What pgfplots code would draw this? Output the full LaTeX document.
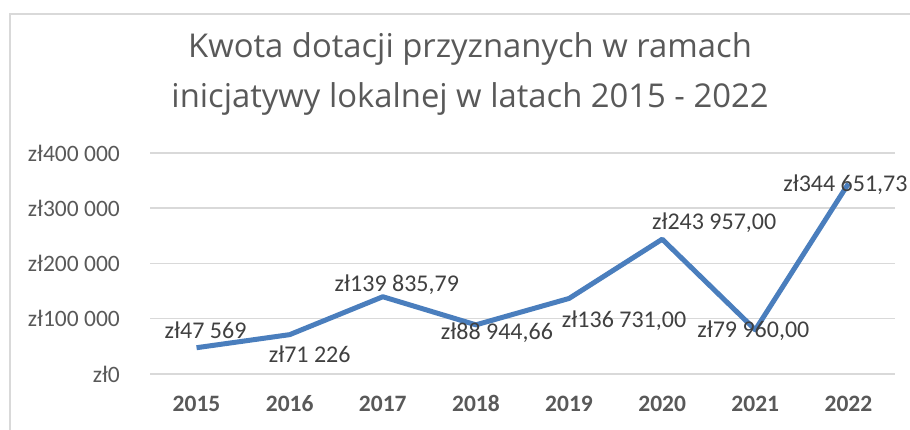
\documentclass[border=0pt]{standalone}
\usepackage{fontspec}
\setmainfont{Carlito}
\newfontfamily\titlefont{Open Sans}
\usepackage{pgfplots}
\pgfplotsset{compat=1.18}
\definecolor{linecol}{HTML}{4A7EBD}
\definecolor{gridgray}{HTML}{D9D9D9}
\definecolor{axgray}{HTML}{595959}
\definecolor{labgray}{HTML}{404040}
\definecolor{bordergray}{HTML}{D9D9D9}
\begin{document}
\begin{tikzpicture}
\useasboundingbox (0pt,0pt) rectangle (910pt,430pt);
\draw[bordergray, line width=1.3pt] (10pt,-20pt) -- (10pt,416pt) -- (940pt,416pt);
\node[font=\titlefont\fontsize{32.8}{50}\selectfont, text=axgray, align=center] at (470pt,356pt)
  {Kwota dotacji przyznanych w ramach\\inicjatywy lokalnej w latach 2015 - 2022};
\begin{axis}[
  at={(150pt,56pt)}, anchor=south west,
  scale only axis, width=745pt, height=221pt,
  xmin=-0.5, xmax=7.5, ymin=0, ymax=400000,
  axis line style={draw=none},
  tick style={draw=none},
  major tick length=0pt,
  ymajorgrids, grid style={gridgray, line width=1.5pt},
  ytick={0,100000,200000,300000,400000},
  yticklabels={zł0,zł100 000,zł200 000,zł300 000,zł400 000},
  xtick={0,1,2,3,4,5,6,7},
  xticklabels={2015,2016,2017,2018,2019,2020,2021,2022},
  /pgf/number format/assume math mode=true,
  yticklabel style={font=\fontsize{23.5}{28}\selectfont, text=axgray, anchor=east, inner sep=0pt, xshift=-30pt},
  xticklabel style={font=\fontsize{23.5}{28}\selectfont\bfseries, text=axgray, anchor=base, inner sep=0pt, yshift=-38pt},
  clip=false,
  scaled y ticks=false,
]
\addplot[linecol, line width=5pt, line join=round, mark=none,
  nodes near coords,
  point meta=explicit symbolic,
  visualization depends on={\thisrow{dx} \as \labdx},
  visualization depends on={\thisrow{dy} \as \labdy},
  every node near coord/.append style={anchor=center, inner sep=0pt,
    xshift=\labdx pt, yshift=\labdy pt,
    font=\fontsize{24}{28}\selectfont, text=labgray},
] table[col sep=semicolon, row sep=\\, x=x, y=y, meta=label] {
x;y;label;dx;dy\\
0;47569;zł47 569;9;17\\
1;71226;zł71 226;20;-20\\
2;139835.79;zł139 835,79;14;12\\
3;88944.66;zł88 944,66;21;-8\\
4;136731.00;zł136 731,00;55;-22\\
5;243957.00;zł243 957,00;52;17\\
6;79960.00;zł79 960,00;-2;-1\\
7;344651.73;zł344 651,73;-3;-1\\
};
\end{axis}
\end{tikzpicture}
\end{document}
